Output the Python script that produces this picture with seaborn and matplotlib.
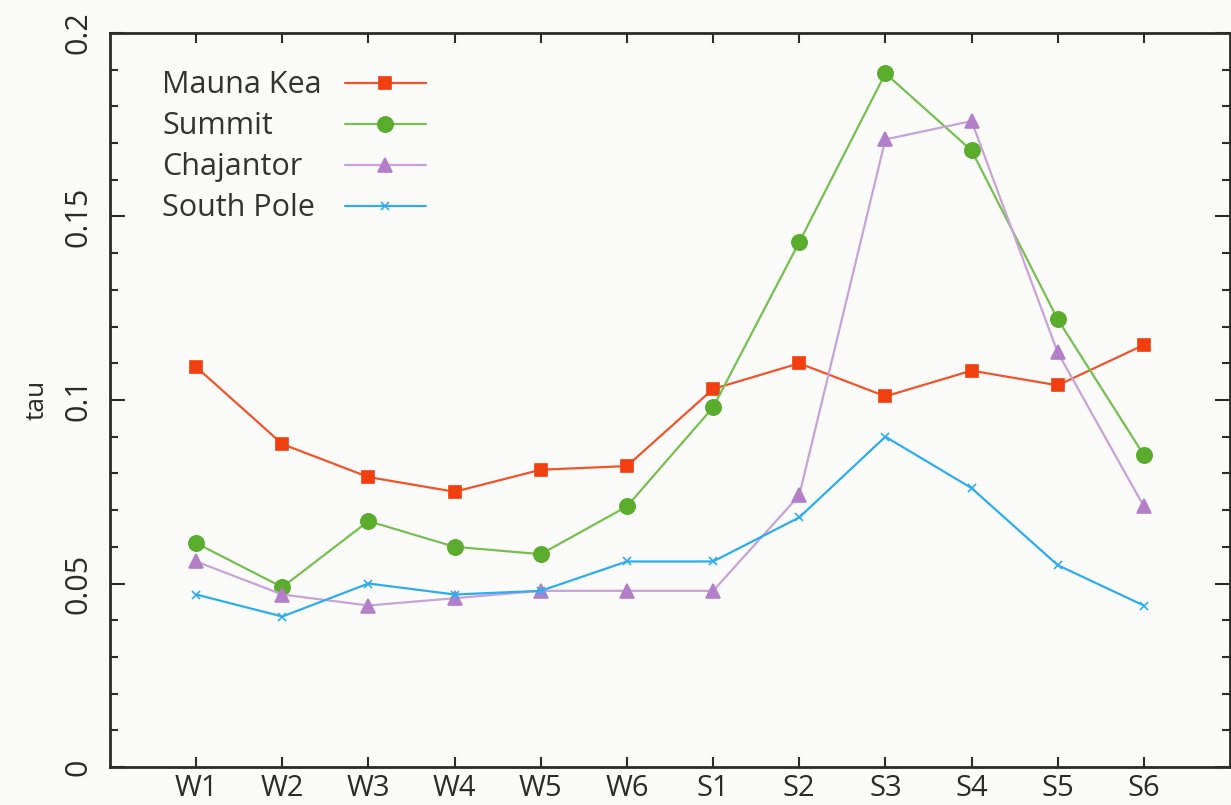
import numpy as np
import pandas as pd
import seaborn as sns
import matplotlib.pyplot as plt
from matplotlib.ticker import MultipleLocator

# data
periods = ['W1', 'W2', 'W3', 'W4', 'W5', 'W6', 'S1', 'S2', 'S3', 'S4', 'S5', 'S6']
mauna_kea = [0.109, 0.088, 0.079, 0.075, 0.081, 0.082, 0.103, 0.110, 0.101, 0.108, 0.104, 0.115]
summit = [0.061, 0.049, 0.067, 0.060, 0.058, 0.071, 0.098, 0.143, 0.189, 0.168, 0.122, 0.085]
chajantor = [0.056, 0.047, 0.044, 0.046, 0.048, 0.048, 0.048, 0.074, 0.171, 0.176, 0.113, 0.071]
south_pole = [0.047, 0.041, 0.050, 0.047, 0.048, 0.056, 0.056, 0.068, 0.090, 0.076, 0.055, 0.044]

sites = ['Mauna Kea', 'Summit', 'Chajantor', 'South Pole']
site_values = [mauna_kea, summit, chajantor, south_pole]

y_ticks = [0, 0.05, 0.1, 0.15, 0.2]
y_tick_labels = ['0', '0.05', '0.1', '0.15', '0.2']

# styling per site: (line colour, marker colour, marker, marker size)
styles = {
    'Mauna Kea': ('#f2542a', '#f23f10', 's', 8),
    'Summit': ('#76bf50', '#5aac2c', 'o', 11),
    'Chajantor': ('#c9a2d8', '#b37fc9', '^', 9.5),
    'South Pole': ('#2eadee', '#2eadee', 'x', 6),
}

sns.set_theme(style="ticks")
plt.rcParams['font.family'] = ['Open Sans', 'DejaVu Sans']
bg = '#fbfcf9'

fig = plt.figure(figsize=(12.31, 8.05), dpi=100, facecolor=bg)
ax = fig.add_axes([110 / 1231, 38 / 805, 1120 / 1231, 734 / 805])
ax.set_facecolor(bg)

x = np.arange(1, len(periods) + 1)
handles = []
for name, vals in zip(sites, site_values):
    lc, mc, mk, ms = styles[name]
    sns.lineplot(x=x, y=vals, ax=ax, color=lc, linewidth=1.6, marker=mk,
                 markersize=ms, markerfacecolor=mc, markeredgecolor=mc,
                 markeredgewidth=1.2, label=name, legend=False)
    handles.append(ax.get_lines()[-1])

ax.set_xlim(0, 13)
ax.set_ylim(0, 0.2)
ax.set_xticks(x)
ax.set_xticklabels(periods)
ax.set_yticks(y_ticks)
ax.set_yticklabels(y_tick_labels)
ax.yaxis.set_minor_locator(MultipleLocator(0.01))

for side in ['left', 'right', 'top', 'bottom']:
    ax.spines[side].set_visible(True)
    ax.spines[side].set_linewidth(2)
    ax.spines[side].set_color('#2b2b2b')

ax.tick_params(axis='x', which='major', direction='in', length=7, width=1.5,
               top=True, bottom=True, labelsize=21, pad=5, colors='#2b2b2b')
ax.tick_params(axis='y', which='major', direction='in', length=11, width=1.5,
               left=True, right=True, labelsize=22, pad=12, colors='#2b2b2b',
               labelrotation=90)
ax.tick_params(axis='y', which='minor', direction='in', length=6, width=1.5,
               left=True, right=True, colors='#2b2b2b')
for lab in ax.get_yticklabels():
    lab.set_va('center')

ax.set_ylabel('tau', fontsize=19, labelpad=10, color='#2b2b2b')
ax.set_xlabel('')

# gnuplot-style key: text left, samples on the right
leg = ax.legend(handles, [''] * len(sites), loc='upper left',
                bbox_to_anchor=((345 - 110) / 1120, 1 - (72 - 33) / 734),
                frameon=False, handlelength=2.9, handletextpad=0,
                borderpad=0, borderaxespad=0, labelspacing=0.47,
                fontsize=20, numpoints=1)

fig.canvas.draw()
renderer = fig.canvas.get_renderer()
to_axes = ax.transAxes.inverted()
for line, name in zip(leg.get_lines(), sites):
    bb = line.get_window_extent(renderer)
    yc = (bb.y0 + bb.y1) / 2
    _, ya = to_axes.transform((0, yc - 10))
    ax.text((162 - 110) / 1120, ya, name, transform=ax.transAxes,
            fontsize=22, ha='left', va='baseline', color='#333333')

plt.savefig('out.png', dpi=100, facecolor=bg)
